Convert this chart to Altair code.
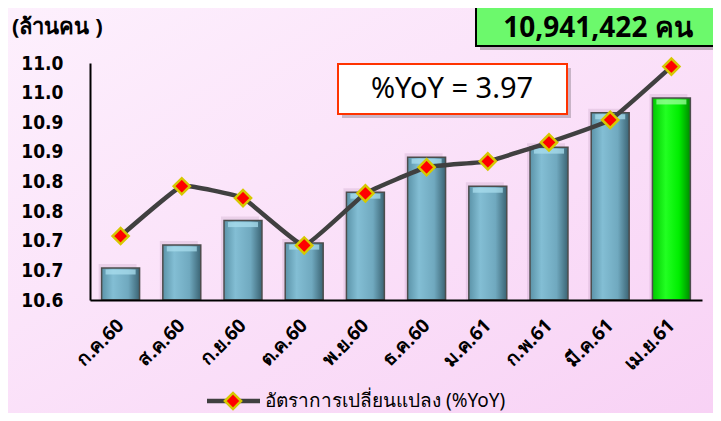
import altair as alt
import pandas as pd

months = ["ก.ค.60", "ส.ค.60", "ก.ย.60", "ต.ค.60", "พ.ย.60", "ธ.ค.60",
          "ม.ค.61", "ก.พ.61", "มี.ค.61", "เม.ย.61"]
workers = [10.654, 10.693, 10.734, 10.696, 10.782, 10.841, 10.792, 10.858, 10.916, 10.941]
yoy = [2.54, 2.96, 2.86, 2.46, 2.90, 3.12, 3.17, 3.33, 3.52, 3.97]
latest = [False] * 9 + [True]
y_ticks = [10.6, 10.65, 10.7, 10.75, 10.8, 10.85, 10.9, 10.95, 11.0]

df = pd.DataFrame({"month": months, "workers": workers, "yoy": yoy, "latest": latest})
one = pd.DataFrame({"k": [0]})

W, H = 612, 237
FONT = "Noto Sans"
NARROW = "DejaVu Sans Condensed"

xenc = alt.X("month:N", sort=months, title=None,
             scale=alt.Scale(paddingInner=0.38, paddingOuter=0.19),
             axis=alt.Axis(labelAngle=315, labelAlign="right", labelBaseline="middle",
                           labelFontSize=19, labelFontWeight="bold", labelColor="black",
                           labelPadding=22, ticks=False, domainColor="black",
                           domainWidth=2, labelFont=FONT, zindex=2))
yenc = alt.Y("workers:Q", title=None,
             scale=alt.Scale(domain=[10.6, 11.0], nice=False, zero=False),
             axis=alt.Axis(values=y_ticks, labelExpr="format(datum.value + 0.0001, '.1f')",
                           grid=False, ticks=False,
                           domainColor="black", domainWidth=2, labelFontSize=19,
                           labelFontWeight="bold", labelColor="black", labelPadding=27,
                           labelFont=NARROW, zindex=2))

bg_grad = alt.Gradient(gradient="linear", x1=0, y1=0, x2=1, y2=1,
                       stops=[alt.GradientStop(color="#fdf0fd", offset=0),
                              alt.GradientStop(color="#f8d2f5", offset=1)])
blue_grad = alt.Gradient(gradient="linear", x1=0, y1=0, x2=1, y2=0,
                         stops=[alt.GradientStop(color="#5b93a8", offset=0),
                                alt.GradientStop(color="#83bed4", offset=0.3),
                                alt.GradientStop(color="#70a9bf", offset=0.7),
                                alt.GradientStop(color="#3b6474", offset=1)])
green_grad = alt.Gradient(gradient="linear", x1=0, y1=0, x2=1, y2=0,
                          stops=[alt.GradientStop(color="#00c800", offset=0),
                                 alt.GradientStop(color="#22ff22", offset=0.35),
                                 alt.GradientStop(color="#00ee00", offset=0.7),
                                 alt.GradientStop(color="#008a00", offset=1)])

background = alt.Chart(one).mark_rect(fill=bg_grad).encode(
    x=alt.value(-82), x2=alt.value(623), y=alt.value(-55), y2=alt.value(350))

base = alt.Chart(df)
shadow = base.mark_bar(fill="#7a4a7a", opacity=0.13, xOffset=-3, yOffset=-4).encode(
    x=xenc, y=yenc, y2=alt.datum(10.6))
bars = base.mark_bar(stroke="#4d4d4d", strokeWidth=1.5).encode(
    x=xenc, y=yenc, y2=alt.datum(10.6),
    fill=alt.condition("datum.latest", alt.value(green_grad), alt.value(blue_grad)))
bevel = base.mark_tick(size=30, thickness=5, yOffset=4, opacity=0.75).encode(
    x=xenc, y=yenc,
    color=alt.condition("datum.latest", alt.value("#9dff9d"), alt.value("#a9deee")))
bar_layer = alt.layer(shadow, bars, bevel)

yline = alt.Y("yoy:Q", scale=alt.Scale(domain=[2.0, 4.0], nice=False, zero=False), axis=None)
line = base.mark_line(color="#404040", strokeWidth=4.5, interpolate="cardinal", tension=0.7).encode(
    x=xenc, y=yline)
pts = base.mark_point(shape="diamond", filled=True, fill="#ff0000", stroke="#d6c800",
                      strokeWidth=2.5, size=260, opacity=1).encode(x=xenc, y=yline)
yoy_layer = alt.layer(line, pts)

ytitle = alt.Chart(one).mark_text(text="(ล้านคน )", align="left", baseline="middle",
                                  fontSize=22, fontWeight="bold", font=FONT, color="black").encode(
    x=alt.value(-78), y=alt.value(-36))

gshadow = alt.Chart(one).mark_rect(fill="#000000", opacity=0.25).encode(
    x=alt.value(390), x2=alt.value(640), y=alt.value(-70), y2=alt.value(-13))
gbox = alt.Chart(one).mark_rect(fill="#6cf96c", stroke="black", strokeWidth=2).encode(
    x=alt.value(386), x2=alt.value(640), y=alt.value(-70), y2=alt.value(-17))
gtext = alt.Chart(one).mark_text(text="10,941,422 คน", align="center", baseline="middle",
                                 fontSize=28, fontWeight="bold", font=FONT, color="black").encode(
    x=alt.value(508), y=alt.value(-34))

wshadow = alt.Chart(one).mark_rect(fill="#000000", opacity=0.2).encode(
    x=alt.value(252), x2=alt.value(481), y=alt.value(5), y2=alt.value(55))
wbox = alt.Chart(one).mark_rect(fill="white", stroke="#ff3300", strokeWidth=2).encode(
    x=alt.value(248), x2=alt.value(477), y=alt.value(1), y2=alt.value(51))
wtext = alt.Chart(one).mark_text(text="%YoY = 3.97", align="center", baseline="middle",
                                 fontSize=29, font=FONT, color="black").encode(
    x=alt.value(362), y=alt.value(26))

leg_rule = alt.Chart(one).mark_rule(color="#404040", strokeWidth=4.5).encode(
    x=alt.value(117), x2=alt.value(170), y=alt.value(338))
leg_pt = alt.Chart(one).mark_point(shape="diamond", filled=True, fill="#ff0000",
                                   stroke="#d6c800", strokeWidth=2.5, size=260, opacity=1).encode(
    x=alt.value(143), y=alt.value(338))
leg_text = alt.Chart(one).mark_text(text="อัตราการเปลี่ยนแปลง (%YoY)", align="left",
                                    baseline="middle", fontSize=19, font=FONT, color="black").encode(
    x=alt.value(175), y=alt.value(338))

chart = alt.layer(
    background, bar_layer, yoy_layer,
    ytitle, gshadow, gbox, gtext, wshadow, wbox, wtext, leg_rule, leg_pt, leg_text
).resolve_scale(y="independent").properties(
    width=W, height=H,
    padding={"left": 82, "top": 55, "right": 11, "bottom": 113},
    autosize=alt.AutoSizeParams(type="none"),
    background="#fbe4fa",
).configure_view(stroke=None)

chart.save("out.html", embed_options={"renderer": "svg", "actions": False})
